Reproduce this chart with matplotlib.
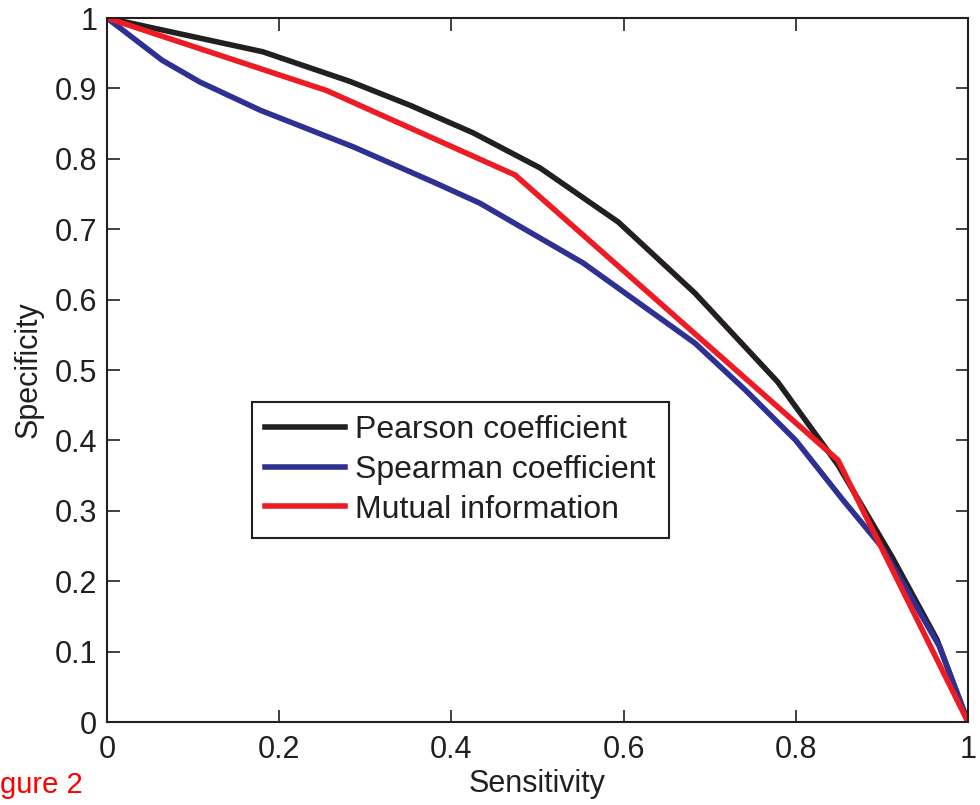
import matplotlib
matplotlib.use("Agg")
import matplotlib.pyplot as plt
from matplotlib.ticker import FuncFormatter

plt.rcParams['font.family'] = ['Liberation Sans', 'DejaVu Sans']

# Data
pearson_x = [0, 0.181, 0.282, 0.352, 0.425, 0.503, 0.594, 0.683, 0.779, 0.849, 0.912, 0.964, 1]
pearson_y = [1, 0.952, 0.910, 0.876, 0.837, 0.787, 0.710, 0.609, 0.483, 0.365, 0.234, 0.117, 0]

spearman_x = [0, 0.064, 0.108, 0.178, 0.286, 0.379, 0.433, 0.553, 0.683, 0.741, 0.80, 0.855, 0.901, 0.967, 1]
spearman_y = [1, 0.940, 0.909, 0.869, 0.817, 0.767, 0.737, 0.652, 0.538, 0.472, 0.40, 0.315, 0.247, 0.107, 0]

mi_x = [0, 0.255, 0.474, 0.849, 1]
mi_y = [1, 0.897, 0.777, 0.372, 0]

labels = ['Pearson coefficient', 'Spearman coefficient', 'Mutual information']
colors = ['#231f20', '#2e3192', '#ed1c24']

xticks = [0, 0.2, 0.4, 0.6, 0.8, 1]
yticks = [0, 0.1, 0.2, 0.3, 0.4, 0.5, 0.6, 0.7, 0.8, 0.9, 1]

fig = plt.figure(figsize=(9.8, 8.05), dpi=100)
ax = fig.add_axes([107/980, 83/805, 861/980, 704/805])

lw = 4
ax.plot(pearson_x, pearson_y, color=colors[0], lw=lw, label=labels[0], solid_joinstyle='miter')
ax.plot(spearman_x, spearman_y, color=colors[1], lw=lw, label=labels[1], solid_joinstyle='miter')
ax.plot(mi_x, mi_y, color=colors[2], lw=lw, label=labels[2], solid_joinstyle='miter')

ax.set_xlim(0, 1)
ax.set_ylim(0, 1)
ax.set_xticks(xticks)
ax.set_yticks(yticks)
fmt = FuncFormatter(lambda v, p: ('%g' % v))
ax.xaxis.set_major_formatter(fmt)
ax.yaxis.set_major_formatter(fmt)
ax.tick_params(direction='in', length=9, width=1.2, top=True, right=True,
               labelsize=22, colors='#231f20')
ax.tick_params(axis='x', pad=9)
ax.tick_params(axis='y', pad=7)
for s in ax.spines.values():
    s.set_linewidth(1.5)
    s.set_color('#231f20')

ax.set_xlabel('Sensitivity', fontsize=22, color='#231f20', labelpad=3)
ax.set_ylabel('Specificity', fontsize=22, color='#231f20', labelpad=8)

leg = ax.legend(loc='upper left', bbox_to_anchor=((252-107)/861, (722-402)/704),
                fontsize=23, fancybox=False, frameon=True, edgecolor='#231f20',
                framealpha=1, handlelength=2.5, handletextpad=0.31, borderpad=0.42,
                labelspacing=0.3, borderaxespad=0)
leg.get_frame().set_linewidth(1.5)
for t in leg.get_texts():
    t.set_color('#231f20')

fig.text(0, 12/805, 'gure 2', ha='left', va='baseline', color='#ff0000', fontsize=21)

fig.savefig('out.png', dpi=100)
